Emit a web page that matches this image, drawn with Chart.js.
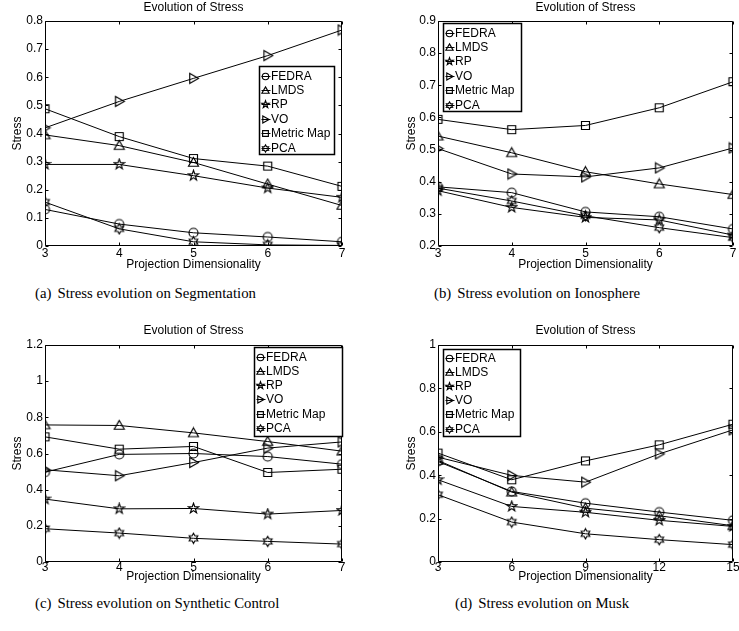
<!DOCTYPE html>
<html>
<head>
<meta charset="utf-8">
<title>Evolution of Stress</title>
<script src="https://cdn.jsdelivr.net/npm/chart.js@4.4.1/dist/chart.umd.min.js"></script>
<style>
  body { margin: 0; background: #fff; width: 739px; height: 631px; overflow: hidden; position: relative; }
  canvas { position: absolute; }
  .cap { position: absolute; font-family: "Liberation Serif", "Times New Roman", serif; font-size: 14.8px; line-height: 16px; color: #000; white-space: nowrap; }
  .cap span { margin-right: 6px; }
</style>
</head>
<body>
<canvas id="segChart" width="370" height="280" style="left:0;top:0"></canvas>
<canvas id="ionoChart" width="369" height="280" style="left:370px;top:0"></canvas>
<canvas id="synChart" width="370" height="280" style="left:0;top:310px"></canvas>
<canvas id="muskChart" width="369" height="280" style="left:370px;top:310px"></canvas>

<div class="cap" style="left:35px;top:285px"><span>(a)</span>Stress evolution on Segmentation</div>
<div class="cap" style="left:434px;top:285px"><span>(b)</span>Stress evolution on Ionosphere</div>
<div class="cap" style="left:35px;top:595px"><span>(c)</span>Stress evolution on Synthetic Control</div>
<div class="cap" style="left:455px;top:595px"><span>(d)</span>Stress evolution on Musk</div>

<script>
// methods in legend order, one row per method in each stress table
var methods = ['FEDRA', 'LMDS', 'RP', 'VO', 'Metric Map', 'PCA'];
var markerKinds = ['o', '^', 'p', '>', 's', 'h'];

var dims = [3, 4, 5, 6, 7];
var muskDims = [3, 6, 9, 12, 15];

var segmentationStress = [
  [0.130, 0.078, 0.047, 0.032, 0.015],
  [0.395, 0.357, 0.297, 0.220, 0.144],
  [0.290, 0.290, 0.250, 0.206, 0.173],
  [0.420, 0.514, 0.596, 0.677, 0.768],
  [0.488, 0.389, 0.311, 0.284, 0.212],
  [0.156, 0.061, 0.015, 0.004, 0.002]
];
var ionosphereStress = [
  [0.384, 0.366, 0.306, 0.291, 0.253],
  [0.542, 0.490, 0.431, 0.393, 0.360],
  [0.372, 0.320, 0.289, 0.281, 0.234],
  [0.503, 0.424, 0.415, 0.443, 0.505],
  [0.594, 0.562, 0.575, 0.630, 0.711],
  [0.380, 0.340, 0.294, 0.257, 0.226]
];
var syntheticStress = [
  [0.497, 0.595, 0.600, 0.583, 0.541],
  [0.758, 0.755, 0.714, 0.666, 0.613],
  [0.348, 0.294, 0.296, 0.265, 0.285],
  [0.510, 0.477, 0.550, 0.630, 0.664],
  [0.692, 0.624, 0.639, 0.495, 0.513],
  [0.184, 0.160, 0.131, 0.114, 0.099]
];
var muskStress = [
  [0.463, 0.325, 0.271, 0.230, 0.192],
  [0.468, 0.322, 0.248, 0.213, 0.167],
  [0.379, 0.256, 0.229, 0.192, 0.164],
  [0.483, 0.399, 0.368, 0.498, 0.609],
  [0.502, 0.379, 0.466, 0.540, 0.635],
  [0.310, 0.184, 0.130, 0.103, 0.080]
];

var FONT = "'Liberation Sans', Arial, Helvetica, sans-serif";
Chart.defaults.font.family = FONT;
Chart.defaults.color = '#000';

// matlab style open markers, drawn once into small canvases
function markerCanvas(kind, r) {
  var s = 2 * Math.ceil(r) + 3;
  var c = document.createElement('canvas');
  c.width = c.height = s;
  var g = c.getContext('2d');
  var m = s / 2;
  g.strokeStyle = '#000';
  g.lineWidth = 1.15;
  g.lineJoin = 'miter';
  g.beginPath();
  function star(n, outer, inner) {
    for (var k = 0; k < n * 2; k++) {
      var rad = k % 2 ? inner : outer;
      var a = -Math.PI / 2 + k * Math.PI / n;
      var px = m + rad * Math.cos(a), py = m + rad * Math.sin(a);
      if (k === 0) g.moveTo(px, py); else g.lineTo(px, py);
    }
    g.closePath();
  }
  if (kind === 'o') {
    g.arc(m, m, r * 0.9, 0, Math.PI * 2);
  } else if (kind === '^') {
    g.moveTo(m, m - r); g.lineTo(m + r, m + r * 0.75); g.lineTo(m - r, m + r * 0.75); g.closePath();
  } else if (kind === '>') {
    g.moveTo(m + r, m); g.lineTo(m - r * 0.75, m - r); g.lineTo(m - r * 0.75, m + r); g.closePath();
  } else if (kind === 's') {
    g.rect(m - r * 0.8, m - r * 0.8, r * 1.6, r * 1.6);
  } else if (kind === 'p') {
    star(5, r * 1.05, r * 0.42);
  } else if (kind === 'h') {
    star(6, r, r * 0.58);
  }
  g.stroke();
  return c;
}

var plotMarkers = markerKinds.map(function (k) { return markerCanvas(k, 5); });
var legendMarkers = markerKinds.map(function (k) { return markerCanvas(k, 3.6); });

// axes box with inward ticks on all four sides
var matlabFrame = {
  id: 'matlabFrame',
  afterDatasetsDraw: function (chart) {
    var ctx = chart.ctx, a = chart.chartArea;
    var L = Math.round(a.left) + 0.5, R = Math.round(a.right) - 0.5;
    var T = Math.round(a.top) + 0.5, B = Math.round(a.bottom) - 0.5;
    var tl = 3;
    ctx.save();
    ctx.strokeStyle = '#000';
    ctx.lineWidth = 1;
    ctx.beginPath();
    ctx.rect(L, T, R - L, B - T);
    chart.scales.x.ticks.forEach(function (t) {
      var px = Math.round(chart.scales.x.getPixelForValue(t.value)) + 0.5;
      ctx.moveTo(px, B); ctx.lineTo(px, B - tl);
      ctx.moveTo(px, T); ctx.lineTo(px, T + tl);
    });
    chart.scales.y.ticks.forEach(function (t) {
      var py = Math.round(chart.scales.y.getPixelForValue(t.value)) + 0.5;
      ctx.moveTo(L, py); ctx.lineTo(L + tl, py);
      ctx.moveTo(R, py); ctx.lineTo(R - tl, py);
    });
    ctx.stroke();
    ctx.restore();
  }
};

// boxed legend inside the axes
var boxLegend = {
  id: 'boxLegend',
  afterDraw: function (chart, args, opts) {
    var ctx = chart.ctx, a = chart.chartArea;
    var x = Math.round(a.left + opts.x) + 0.5, y = Math.round(a.top + opts.y) + 0.5;
    ctx.save();
    ctx.fillStyle = '#fff';
    ctx.fillRect(x, y, opts.w, opts.h);
    ctx.strokeStyle = '#000';
    ctx.lineWidth = 1.5;
    ctx.strokeRect(x, y, opts.w, opts.h);
    ctx.font = '12px ' + FONT;
    ctx.fillStyle = '#000';
    ctx.textBaseline = 'middle';
    ctx.lineWidth = 1;
    chart.data.datasets.forEach(function (ds, i) {
      var ry = Math.round(y + opts.first + i * opts.step) + 0.5;
      var mx = x + 6;
      ctx.beginPath();
      ctx.moveTo(x + 2, ry); ctx.lineTo(x + 11, ry);
      ctx.stroke();
      var im = legendMarkers[i];
      ctx.drawImage(im, Math.round(mx - im.width / 2), Math.round(ry - im.height / 2));
      ctx.fillText(ds.label, x + 11.5, ry + 0.5);
    });
    ctx.restore();
  }
};

function tickText(v) {
  return String(Math.round(v * 10) / 10);
}

function buildChart(id, xs, table, c) {
  var datasets = methods.map(function (name, i) {
    return {
      label: name,
      data: xs.map(function (x, j) { return { x: x, y: table[i][j] }; }),
      borderColor: '#000',
      backgroundColor: '#000',
      borderWidth: 1,
      pointStyle: plotMarkers[i],
      pointRadius: 5,
      tension: 0,
      fill: false
    };
  });
  return new Chart(document.getElementById(id), {
    type: 'line',
    data: { datasets: datasets },
    options: {
      responsive: false,
      animation: false,
      layout: { padding: c.pad },
      plugins: {
        legend: { display: false },
        tooltip: { enabled: false },
        title: {
          display: true,
          text: 'Evolution of Stress',
          fullSize: false,
          font: { size: 12, weight: 'normal' },
          color: '#000',
          padding: { top: c.titleTop, bottom: c.titleBottom }
        },
        boxLegend: c.legend
      },
      scales: {
        x: {
          type: 'linear',
          min: xs[0],
          max: xs[xs.length - 1],
          grid: { display: false, drawTicks: false },
          border: { display: false },
          ticks: { stepSize: xs[1] - xs[0], autoSkip: false, maxRotation: 0, padding: c.xTickPad,
                   font: { size: 12 }, color: '#000', callback: tickText },
          title: { display: true, text: 'Projection Dimensionality', font: { size: 12 }, color: '#000',
                   padding: { top: 0, bottom: 0 } },
          afterFit: function (s) { s.height = c.xHeight; s.paddingLeft = 0; s.paddingRight = 0; }
        },
        y: {
          type: 'linear',
          min: c.yMin,
          max: c.yMax,
          grid: { display: false, drawTicks: false },
          border: { display: false },
          ticks: { stepSize: c.yStep, autoSkip: false, padding: 2, font: { size: 12 }, color: '#000',
                   callback: tickText },
          title: { display: true, text: 'Stress', font: { size: 12 }, color: '#000',
                   padding: { top: c.yTitlePad, bottom: 0 } },
          afterFit: function (s) { s.width = c.yWidth; s.paddingTop = 0; s.paddingBottom = 0; }
        }
      }
    },
    plugins: [matlabFrame, boxLegend]
  });
}

buildChart('segChart', dims, segmentationStress, {
  yMin: 0, yMax: 0.8, yStep: 0.1,
  pad: { top: 0, right: 28, bottom: 8, left: 0 },
  titleTop: 0, titleBottom: 6.6, yWidth: 45, yTitlePad: 10.8, xHeight: 26, xTickPad: 0,
  legend: { x: 214, y: 45, w: 75, h: 88, first: 9, step: 14.4 }
});
buildChart('ionoChart', dims, ionosphereStress, {
  yMin: 0.2, yMax: 0.9, yStep: 0.1,
  pad: { top: 0, right: 3, bottom: 8, left: 0 },
  titleTop: 0, titleBottom: 6.6, yWidth: 68, yTitlePad: 34.8, xHeight: 26, xTickPad: 0,
  legend: { x: 5, y: 2, w: 78, h: 88, first: 9, step: 14.4 }
});
buildChart('synChart', dims, syntheticStress, {
  yMin: 0, yMax: 1.2, yStep: 0.2,
  pad: { top: 0, right: 28, bottom: 6, left: 0 },
  titleTop: 13.8, titleBottom: 6.8, yWidth: 45, yTitlePad: 10.8, xHeight: 22, xTickPad: -2,
  legend: { x: 209, y: 2, w: 88, h: 89, first: 9, step: 14.3 }
});
buildChart('muskChart', muskDims, muskStress, {
  yMin: 0, yMax: 1, yStep: 0.2,
  pad: { top: 0, right: 3, bottom: 6, left: 0 },
  titleTop: 13.8, titleBottom: 6.8, yWidth: 68, yTitlePad: 34.8, xHeight: 22, xTickPad: -2,
  legend: { x: 5, y: 4, w: 77, h: 87, first: 8, step: 14.2 }
});
</script>
</body>
</html>
